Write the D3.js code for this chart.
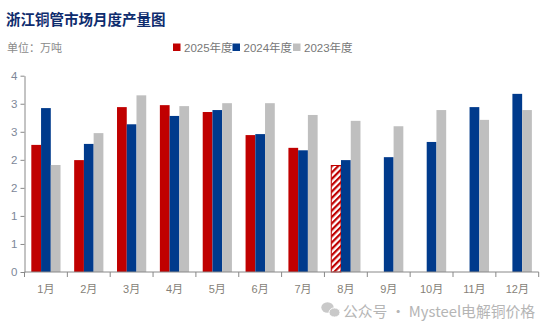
<!DOCTYPE html>
<html>
<head>
<meta charset="utf-8">
<script src="https://cdn.jsdelivr.net/npm/d3@7"></script>
<style>
  html, body { margin: 0; padding: 0; background: #fff; }
  svg { display: block; }
</style>
</head>
<body>
<svg id="chart" width="554" height="332"></svg>
<script>
// Monthly copper tube output in Zhejiang (10k tonnes)
const months = ["1月","2月","3月","4月","5月","6月","7月","8月","9月","10月","11月","12月"];
const seriesNames = ["2025年度","2024年度","2023年度"];
const seriesColors = ["#C00000","#003A8C","#BFBFBF"];
const values2025 = [2.59, 2.28, 3.36, 3.40, 3.26, 2.79, 2.53, 2.17, null, null, null, null];
const values2024 = [3.34, 2.61, 3.01, 3.18, 3.30, 2.81, 2.48, 2.28, 2.34, 2.65, 3.36, 3.63];
const values2023 = [2.18, 2.83, 3.60, 3.38, 3.44, 3.44, 3.20, 3.08, 2.97, 3.30, 3.10, 3.30];
// the latest month is an estimate and is drawn hatched
const estimatedMonth = "8月";
const yMax = 4;
const yTickCount = 8;

const seriesValues = [values2025, values2024, values2023];

const svg = d3.select("#chart");

// hatch pattern for the estimated bar
const defs = svg.append("defs");
const pat = defs.append("pattern")
  .attr("id", "hatch")
  .attr("patternUnits", "userSpaceOnUse")
  .attr("width", 4.5).attr("height", 4.5)
  .attr("patternTransform", "rotate(45)");
pat.append("rect").attr("width", 4.5).attr("height", 4.5).attr("fill", "#fff");
pat.append("rect").attr("width", 2.2).attr("height", 4.5).attr("fill", "#C00000");

const x = d3.scaleBand().domain(months).range([24.5, 538.7]).padding(0);
const xs = d3.scaleBand().domain(seriesNames).range([0, x.bandwidth()]).paddingInner(0).paddingOuter(0.7);
const y = d3.scaleLinear().domain([0, yMax]).range([272, 75.7]);

// title and unit
svg.append("text")
  .attr("x", 6).attr("y", 25)
  .attr("font-family", "'Noto Sans CJK SC', sans-serif")
  .attr("font-weight", "bold").attr("font-size", 14.5)
  .attr("fill", "#0E2C6E")
  .text("浙江铜管市场月度产量图");

svg.append("text")
  .attr("x", 7).attr("y", 52)
  .attr("font-family", "'Noto Sans CJK SC', sans-serif")
  .attr("font-size", 11)
  .attr("fill", "#8a8a8a")
  .text("单位：万吨");

// legend
const legendX = [173, 232.5, 293];
const legend = svg.append("g");
seriesNames.forEach((name, i) => {
  legend.append("rect")
    .attr("x", legendX[i]).attr("y", 43.5)
    .attr("width", 7.5).attr("height", 7.5)
    .attr("fill", seriesColors[i]);
  legend.append("text")
    .attr("x", legendX[i] + 11).attr("y", 51.5)
    .attr("font-family", "'Liberation Sans', 'Noto Sans CJK SC', sans-serif")
    .attr("font-size", 11.5)
    .attr("fill", "#777")
    .text(name);
});

// bars
const rows = [];
months.forEach((m, mi) => {
  seriesNames.forEach((s, si) => {
    const v = seriesValues[si][mi];
    if (v != null) rows.push({ month: m, series: s, si, value: v });
  });
});

svg.append("g").selectAll("rect")
  .data(rows)
  .join("rect")
  .attr("x", d => x(d.month) + xs(d.series))
  .attr("y", d => y(d.value))
  .attr("width", xs.bandwidth())
  .attr("height", d => y(0) - y(d.value))
  .attr("fill", d => (d.si === 0 && d.month === estimatedMonth) ? "url(#hatch)" : seriesColors[d.si])
  .attr("stroke", d => (d.si === 0 && d.month === estimatedMonth) ? "#C00000" : "none")
  .attr("stroke-width", 1);

// y axis
const yTicks = d3.range(yTickCount).map(i => i * yMax / (yTickCount - 1));
const yAxis = svg.append("g")
  .attr("transform", "translate(24.5,0)")
  .call(d3.axisLeft(y).tickValues(yTicks).tickFormat(d3.format(".0f")).tickSize(4).tickPadding(3).tickSizeOuter(0));
yAxis.select(".domain").attr("stroke", "#888");
yAxis.selectAll(".tick line").attr("stroke", "#888");
yAxis.selectAll(".tick text")
  .attr("font-family", "'Liberation Sans', sans-serif")
  .attr("font-size", 11.5)
  .attr("fill", "#7d8798");

// x axis with ticks on band boundaries
const xAxis = svg.append("g").attr("transform", "translate(0,272)");
xAxis.append("line")
  .attr("x1", x.range()[0]).attr("x2", x.range()[1])
  .attr("stroke", "#888");
const boundaries = months.map(m => x(m)).concat([x.range()[1]]);
xAxis.selectAll("line.tk").data(boundaries).join("line")
  .attr("class", "tk")
  .attr("x1", d => d).attr("x2", d => d)
  .attr("y1", 0).attr("y2", 5)
  .attr("stroke", "#888");
xAxis.selectAll("text").data(months).join("text")
  .attr("x", d => x(d) + x.bandwidth() / 2)
  .attr("y", 21)
  .attr("text-anchor", "middle")
  .attr("font-family", "'Liberation Sans', 'Noto Sans CJK SC', sans-serif")
  .attr("font-size", 11)
  .attr("fill", "#857f78")
  .text(d => d);

// source mark
const wm = svg.append("g").attr("opacity", 0.9);
wm.append("ellipse").attr("cx", 327.5).attr("cy", 307.5).attr("rx", 6.2).attr("ry", 5.2).attr("fill", "#c4c4c4");
wm.append("ellipse").attr("cx", 334.5).attr("cy", 312.5).attr("rx", 5.5).attr("ry", 4.6).attr("fill", "#c4c4c4").attr("stroke", "#fff").attr("stroke-width", 1);
wm.append("text")
  .attr("x", 343).attr("y", 316.5)
  .attr("font-family", "'Noto Sans CJK SC', sans-serif")
  .attr("font-size", 14.8)
  .attr("fill", "#adadad")
  .text("公众号 · Mysteel电解铜价格");
</script>
</body>
</html>
